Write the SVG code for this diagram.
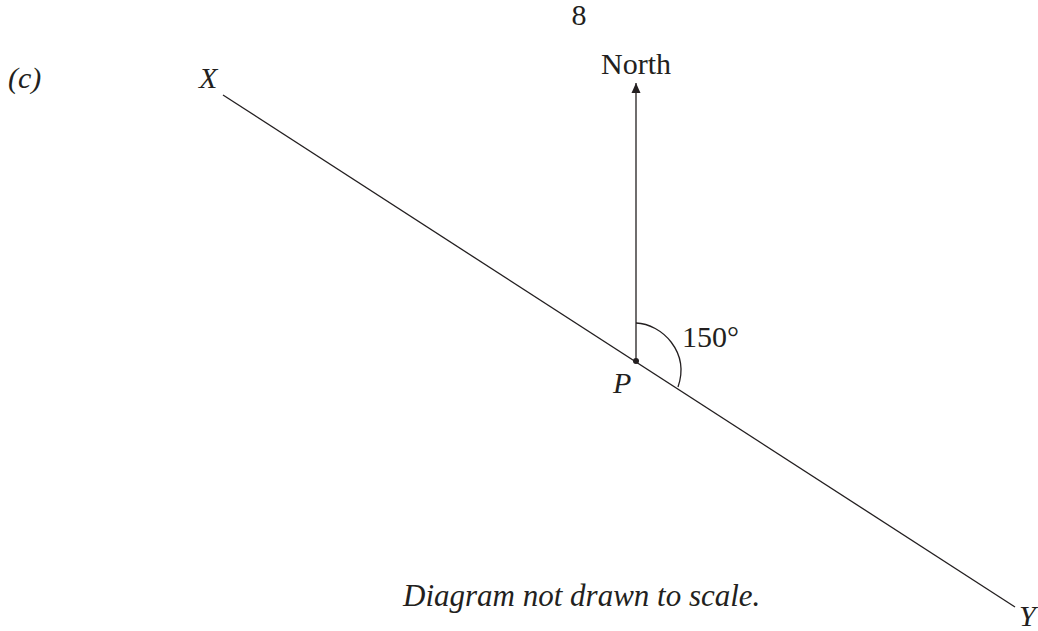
<svg xmlns="http://www.w3.org/2000/svg" width="1038" height="631" viewBox="0 0 1038 631">
<style>
text{font-family:"Liberation Serif","Times New Roman",serif;font-size:30px;fill:#231f20}
.it{font-style:italic}
.cap{font-size:31px}
.ln{stroke:#231f20;stroke-width:1.3;fill:none}
</style>
<defs>
<marker id="ah" viewBox="0 0 10 10" refX="10" refY="5" markerWidth="10" markerHeight="10" markerUnits="userSpaceOnUse" orient="auto">
<path d="M0,0.5 L10,5 L0,9.5 Z" fill="#231f20"/>
</marker>
</defs>
<rect width="1038" height="631" fill="#fff"/>
<text x="579" y="25" text-anchor="middle">8</text>
<text class="it" x="8" y="88">(c)</text>
<g id="connectors">
<line class="ln" x1="223" y1="95" x2="1015" y2="607"/>
<line class="ln" x1="636" y1="361" x2="636" y2="83" marker-end="url(#ah)"/>
<path class="ln" d="M636,323 C662,324 690,352 678,387"/>
</g>
<g id="X"><text class="it" x="199" y="88">X</text></g>
<g id="Y"><text class="it" x="1019" y="626">Y</text></g>
<g id="P"><circle cx="636" cy="361" r="3" fill="#231f20"/><text class="it" x="613" y="393">P</text></g>
<g id="north"><text x="636" y="74" text-anchor="middle">North</text></g>
<g id="angle"><text x="682" y="347">150°</text></g>
<text class="it cap" x="403" y="606">Diagram not drawn to scale.</text>
</svg>
